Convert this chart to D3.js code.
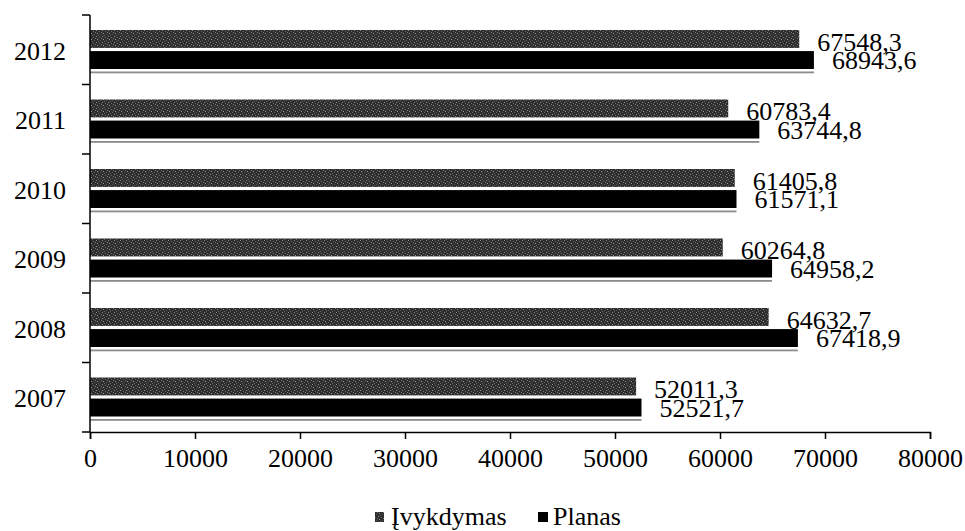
<!DOCTYPE html>
<html>
<head>
<meta charset="utf-8">
<script src="https://cdn.jsdelivr.net/npm/d3@7/dist/d3.min.js"></script>
<style>
  html, body { margin: 0; padding: 0; background: #fff; }
  svg { display: block; }
  text { font-family: "Liberation Serif", "Times New Roman", serif; fill: #000; }
</style>
</head>
<body>
<svg id="chart" width="965" height="531"></svg>
<script>
// ---- data ----
const years = ["2007", "2008", "2009", "2010", "2011", "2012"];
const seriesNames = ["Įvykdymas", "Planas"];
const ivykdymas = [52011.3, 64632.7, 60264.8, 61405.8, 60783.4, 67548.3];
const planas    = [52521.7, 67418.9, 64958.2, 61571.1, 63744.8, 68943.6];
const xTicks = [0, 10000, 20000, 30000, 40000, 50000, 60000, 70000, 80000];

const fmt = v => v.toFixed(1).replace(".", ",");

const svg = d3.select("#chart");
const plotLeft = 90, plotRight = 930, plotTop = 15, plotBottom = 432;

// texture for the grey series
const defs = svg.append("defs");
const pat = defs.append("pattern").attr("id", "speckle")
  .attr("patternUnits", "userSpaceOnUse").attr("width", 6).attr("height", 6);
pat.append("rect").attr("width", 6).attr("height", 6).attr("fill", "#2e2e2e");
[[0,0,"#8a8a8a"],[3,1,"#6a6a6a"],[1,3,"#9a9a9a"],[4,4,"#5a5a5a"],[5,2,"#7a7a7a"],[2,5,"#666"]]
  .forEach(([px,py,c]) => pat.append("rect").attr("x", px).attr("y", py).attr("width", 1).attr("height", 1).attr("fill", c));

const x = d3.scaleLinear().domain([0, 80000]).range([plotLeft, plotRight]);
const y = d3.scaleBand().domain(years.slice().reverse()).range([plotTop, plotBottom]).padding(0);
const step = y.step();
const ySub = d3.scaleBand().domain(seriesNames).range([15, 54]).paddingInner(0.15);

const rows = years.map((yr, i) => ({ year: yr, "Įvykdymas": ivykdymas[i], "Planas": planas[i] }));
const fills = { "Įvykdymas": "url(#speckle)", "Planas": "#000" };

const g = svg.append("g");
rows.forEach(r => {
  const by = y(r.year);
  seriesNames.forEach(s => {
    g.append("rect")
      .attr("x", x(0)).attr("y", by + ySub(s))
      .attr("width", x(r[s]) - x(0)).attr("height", ySub.bandwidth())
      .attr("fill", fills[s]);
  });
  // faint scan shadow line under the Planas bar
  g.append("rect")
    .attr("x", x(0)).attr("y", by + ySub("Planas") + ySub.bandwidth() + 2.5)
    .attr("width", x(r["Planas"]) - x(0)).attr("height", 1.8)
    .attr("fill", "#8c8c8c");
  // labels
  g.append("text")
    .attr("x", x(r["Įvykdymas"]) + 18)
    .attr("y", by + ySub("Įvykdymas") + ySub.bandwidth() + 3)
    .attr("font-size", 26).text(fmt(r["Įvykdymas"]));
  g.append("text")
    .attr("x", x(r["Planas"]) + 18)
    .attr("y", by + ySub("Planas") + ySub.bandwidth())
    .attr("font-size", 26).text(fmt(r["Planas"]));
});

// y axis
const yAxisG = svg.append("g");
yAxisG.append("line").attr("x1", plotLeft).attr("x2", plotLeft).attr("y1", plotTop).attr("y2", plotBottom)
  .attr("stroke", "#000").attr("stroke-width", 1.5);
d3.range(years.length + 1).forEach(i => {
  yAxisG.append("line").attr("x1", plotLeft - 8).attr("x2", plotLeft)
    .attr("y1", plotTop + i * step).attr("y2", plotTop + i * step)
    .attr("stroke", "#000").attr("stroke-width", 1.5);
});
years.forEach(yr => {
  yAxisG.append("text").attr("x", 66).attr("y", y(yr) + step / 2 + 10)
    .attr("text-anchor", "end").attr("font-size", 26).text(yr);
});

// x axis
const xAxis = d3.axisBottom(x).tickValues(xTicks).tickSize(7).tickPadding(8).tickFormat(d => String(d));
const xg = svg.append("g").attr("transform", `translate(0,${plotBottom})`).call(xAxis);
xg.select(".domain").attr("stroke", "#000").attr("stroke-width", 1.5);
xg.selectAll(".tick line").attr("stroke", "#000").attr("stroke-width", 1.5);
xg.selectAll(".tick text").attr("font-size", 26)
  .attr("font-family", "Liberation Serif, Times New Roman, serif").attr("fill", "#000")
  .attr("dy", "0.75em");

// legend
const lg = svg.append("g");
lg.append("rect").attr("x", 375).attr("y", 512).attr("width", 9).attr("height", 10).attr("fill", "url(#speckle)");
lg.append("text").attr("x", 391).attr("y", 525).attr("font-size", 26).text(seriesNames[0]);
lg.append("rect").attr("x", 538).attr("y", 512).attr("width", 10).attr("height", 10).attr("fill", "#000");
lg.append("text").attr("x", 553).attr("y", 525).attr("font-size", 26).text(seriesNames[1]);
</script>
</body>
</html>
